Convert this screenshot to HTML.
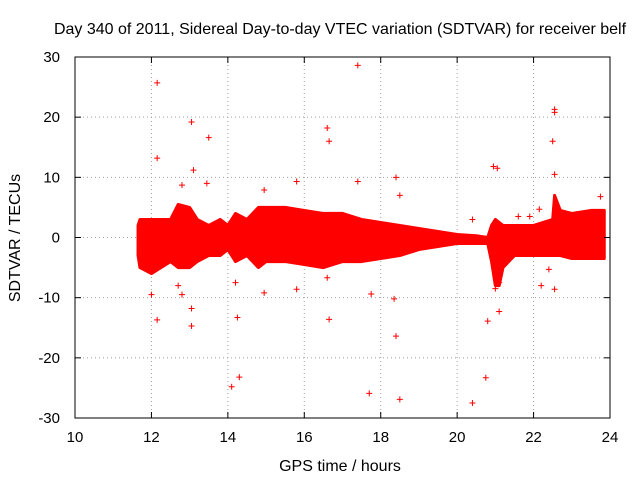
<!DOCTYPE html>
<html><head><meta charset="utf-8"><style>
body{margin:0;background:#fff}
svg{display:block;font-family:"Liberation Sans",sans-serif}
</style></head><body>
<svg id="c" width="640" height="480">
<text x="340" y="34" text-anchor="middle" font-size="16">Day 340 of 2011, Sidereal Day-to-day VTEC variation (SDTVAR) for receiver belf</text>
<text x="340" y="471" text-anchor="middle" font-size="16">GPS time / hours</text>
<text x="0" y="0" transform="translate(20,238) rotate(-90)" text-anchor="middle" font-size="16">SDTVAR / TECUs</text>
<g id="grid"></g><g id="band"></g><g id="pts"></g><g id="axes"></g>
</svg>
<script>
const xTicks=[10,12,14,16,18,20,22,24];
const yTicks=[-30,-20,-10,0,10,20,30];
const bandTimes=[11.65,11.7,12,12.5,12.7,13.0,13.2,13.5,13.8,14.0,14.2,14.5,14.8,15.0,15.5,16,16.5,17,17.5,18,18.5,19,19.5,20,20.5,20.8,20.9,21.0,21.1,21.2,21.5,22,22.5,22.55,22.7,23,23.5,23.85];
const bandUpper=[2,3,3,3,5.5,5,3,2,3,2,4,3,5,5,5,4.5,4,4,3,2.5,2,1.5,1,0.5,0.3,0,2,3,2.5,2,2,2,3,7,4.5,4,4.5,4.5];
const bandLower=[-3,-5,-6,-4,-5,-5,-4,-3,-3,-2,-4,-3,-5,-4,-4,-4.5,-5,-4,-4,-3.5,-3,-2,-1.5,-1,-1,-1,-4,-8,-8,-5,-3,-3,-3,-3,-3,-3.5,-3.5,-3.5];
const outT=[12.15,12.15,12.15,13.05,13.1,13.05,13.5,13.45,12.8,14.1,14.3,14.25,14.2,14.95,15.8,15.8,16.6,16.65,16.65,16.6,17.4,17.4,17.75,17.7,18.4,18.35,18.5,18.4,18.5,20.4,20.4,20.75,20.8,20.95,21.05,21.1,22.55,22.55,22.5,22.55,22.4,22.55,22.2,22.15,23.75,21.6,21.9,12.7,13.05,14.95,12.0,12.8,21.0,21.1];
const outV=[25.7,13.2,-13.7,19.2,11.2,-14.7,16.6,9,8.7,-24.8,-23.2,-13.3,-7.5,7.9,9.3,-8.6,18.2,16,-13.6,-6.7,28.6,9.3,-9.4,-25.9,-16.4,-10.2,-26.9,10,7,-27.5,3,-23.3,-13.9,11.8,11.5,-12.3,21.3,20.8,16,10.5,-5.3,-8.6,-8,4.7,6.8,3.5,3.5,-8,-11.8,-9.2,-9.5,-9.5,-8.5,-7.5];
const L=75,R=610,T=57,B=418;
const X=t=>L+(t-10)/14*(R-L);
const Y=v=>T+(30-v)/60*(B-T);
const NS='http://www.w3.org/2000/svg';
function mk(tag,parent,attrs){const e=document.createElementNS(NS,tag);for(const k in attrs)e.setAttribute(k,attrs[k]);parent.appendChild(e);return e;}
const grid=document.getElementById('grid'),axes=document.getElementById('axes'),band=document.getElementById('band'),pts=document.getElementById('pts');
xTicks.forEach(t=>{
 if(t>10&&t<24){const g=mk('line',grid,{x1:X(t),x2:X(t),y1:T,y2:B,stroke:'#a0a0a0','stroke-dasharray':'1,3'});
 }
 mk('line',axes,{x1:X(t),x2:X(t),y1:B,y2:B-6,stroke:'#000'});
 mk('line',axes,{x1:X(t),x2:X(t),y1:T,y2:T+6,stroke:'#000'});
 const tx=mk('text',axes,{x:X(t),y:B+24,'text-anchor':'middle','font-size':'15'});tx.textContent=t;
 
});
yTicks.forEach(v=>{
 if(v>-30&&v<30){const g=mk('line',grid,{x1:L,x2:R,y1:Y(v),y2:Y(v),stroke:'#a0a0a0','stroke-dasharray':'1,3'});
 }
 mk('line',axes,{x1:L,x2:L+6,y1:Y(v),y2:Y(v),stroke:'#000'});
 mk('line',axes,{x1:R,x2:R-6,y1:Y(v),y2:Y(v),stroke:'#000'});
 const tx=mk('text',axes,{x:L-15,y:Y(v)+5,'text-anchor':'end','font-size':'15'});tx.textContent=v;
 
});
const fr=mk('rect',axes,{x:L,y:T,width:R-L,height:B-T,fill:'none',stroke:'#000'});

let d='';
bandTimes.forEach((t,i)=>{d+=(i?'L':'M')+X(t)+','+Y(bandUpper[i]);});
for(let i=bandTimes.length-1;i>=0;i--)d+='L'+X(bandTimes[i])+','+Y(bandLower[i]);
d+='Z';
const bp=mk('path',band,{d:d,fill:'#ff0000',stroke:'#ff0000','stroke-width':'3','stroke-linejoin':'round'});

outT.forEach((t,i)=>{
 const x=X(t),y=Y(outV[i]);
 const p=mk('path',pts,{d:`M${x-3},${y}H${x+3}M${x},${y-3}V${y+3}`,stroke:'#ff0000','stroke-width':'1'});
 
});
</script>
</body></html>
